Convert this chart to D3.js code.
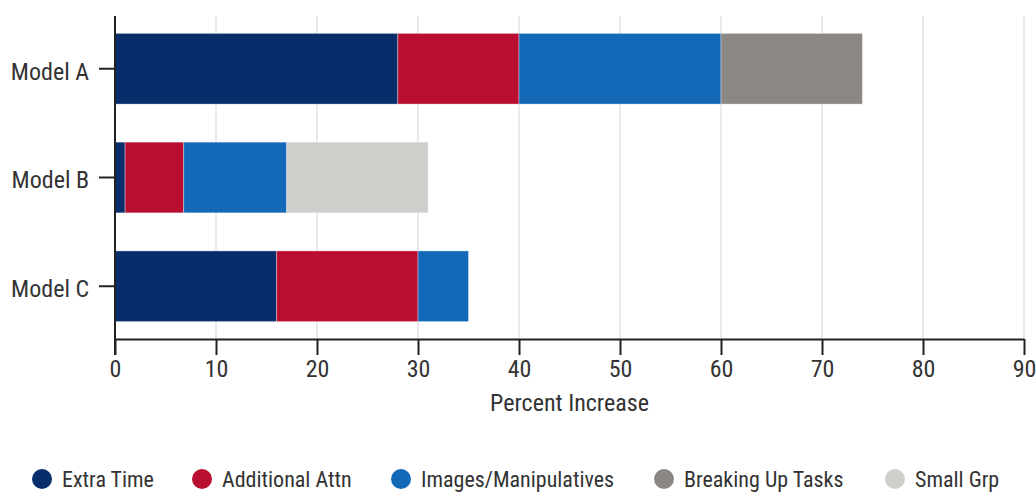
<!DOCTYPE html>
<html>
<head>
<meta charset="utf-8">
<script src="https://cdn.jsdelivr.net/npm/d3@7"></script>
<style>
  body { margin: 0; background: #fff; }
  svg text { font-family: "Roboto Condensed", Roboto, "Noto Sans", sans-serif; fill: #333; }
</style>
</head>
<body>
<svg id="chart" width="1036" height="493"></svg>
<script>
// data
const categories = ['Model A', 'Model B', 'Model C'];
const seriesNames = ['Extra Time', 'Additional Attn', 'Images/Manipulatives', 'Breaking Up Tasks', 'Small Grp'];
const extraTime = [28, 1, 16];
const additionalAttn = [12, 5.8, 14];
const imagesManip = [20, 10.2, 5];
const breakingUp = [14, 0, 0];
const smallGrp = [0, 14, 0];
const xTicks = [0, 10, 20, 30, 40, 50, 60, 70, 80, 90];
const colors = ['#072d6a', '#b90e30', '#1468b8', '#8b8883', '#cfcecb'];

const seriesValues = [extraTime, additionalAttn, imagesManip, breakingUp, smallGrp];
const rows = categories.map((c, i) => {
  const r = { model: c };
  seriesNames.forEach((s, j) => { r[s] = seriesValues[j][i]; });
  return r;
});

const svg = d3.select('#chart');
const margin = { top: 16, left: 115, right: 12, bottom: 154 };
const W = 1036, H = 493;
const plotBottom = H - margin.bottom;

const x = d3.scaleLinear().domain([0, 90]).range([margin.left, W - margin.right]);
const y = d3.scaleBand().domain(categories).range([margin.top, plotBottom])
  .paddingInner(0.35).paddingOuter(0.16);

// grid
svg.append('g')
  .selectAll('line')
  .data(xTicks.slice(1))
  .join('line')
  .attr('x1', d => x(d)).attr('x2', d => x(d))
  .attr('y1', margin.top).attr('y2', plotBottom)
  .attr('stroke', '#e3e3e3').attr('stroke-width', 1.5);

// stacked bars
const stack = d3.stack().keys(seriesNames)(rows);
svg.append('g')
  .selectAll('g')
  .data(stack)
  .join('g')
  .attr('fill', (d, i) => colors[i])
  .selectAll('rect')
  .data(d => d.filter(v => v[1] - v[0] > 0))
  .join('rect')
  .attr('x', d => x(d[0]))
  .attr('width', d => x(d[1]) - x(d[0]))
  .attr('y', d => y(d.data.model))
  .attr('height', y.bandwidth())
  .attr('stroke', 'rgba(255,255,255,0.35)')
  .attr('stroke-width', 1);

// x axis
const xAxis = svg.append('g')
  .attr('transform', `translate(0,${plotBottom})`)
  .call(d3.axisBottom(x).tickValues(xTicks).tickSize(16).tickPadding(5).tickSizeOuter(0));
xAxis.select('.domain').attr('stroke', '#222').attr('stroke-width', 2);
xAxis.selectAll('.tick line').attr('stroke', '#222').attr('stroke-width', 2);
xAxis.selectAll('.tick text').attr('font-size', 24).style('fill', '#333');

// y axis
const yAxis = svg.append('g')
  .attr('transform', `translate(${margin.left},0)`)
  .call(d3.axisLeft(y).tickSize(16).tickPadding(10).tickSizeOuter(0));
yAxis.select('.domain').attr('stroke', '#222').attr('stroke-width', 2)
  .attr('d', `M0,${margin.top}V${plotBottom + 16}`);
yAxis.selectAll('.tick line').attr('stroke', '#222').attr('stroke-width', 2);
yAxis.selectAll('.tick text').attr('font-size', 24).attr('dy', '0.45em').style('fill', '#333');

// axis title
svg.append('text')
  .attr('x', (x.range()[0] + x.range()[1]) / 2)
  .attr('y', 411)
  .attr('text-anchor', 'middle')
  .attr('font-size', 24)
  .text('Percent Increase');

// legend
const legendX = [42, 202, 401, 664, 895];
const legend = svg.append('g')
  .selectAll('g')
  .data(seriesNames)
  .join('g')
  .attr('transform', (d, i) => `translate(${legendX[i]},479)`);
legend.append('circle').attr('r', 10).attr('fill', (d, i) => colors[i]);
legend.append('text')
  .attr('x', 20).attr('dy', '0.36em')
  .attr('font-size', 22)
  .text(d => d);
</script>
</body>
</html>
